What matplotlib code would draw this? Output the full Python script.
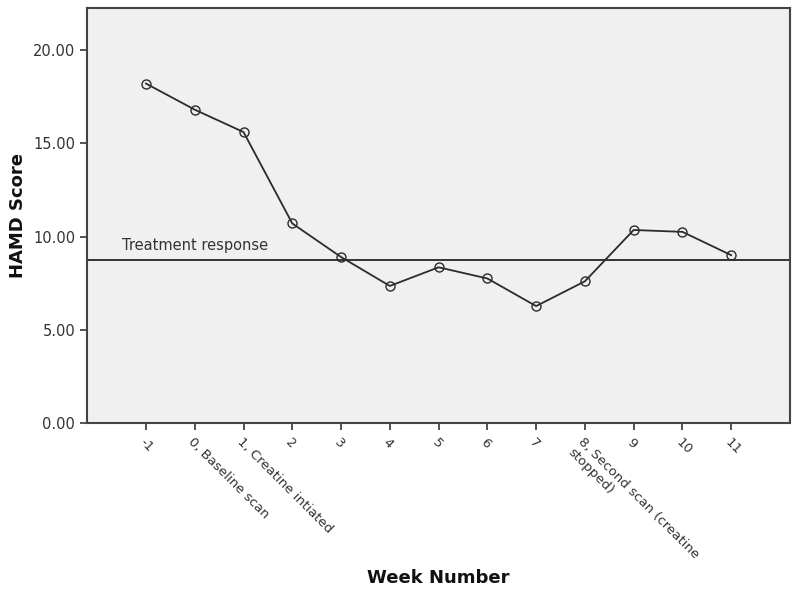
import matplotlib.pyplot as plt

weeks = ['-1', '0, Baseline scan', '1, Creatine intiated', '2', '3', '4', '5', '6', '7',
         '8, Second scan (creatine\nstopped)', '9', '10', '11']
hamd = [18.2, 16.8, 15.6, 10.7, 8.9, 7.35, 8.35, 7.75, 6.27, 7.6, 10.35, 10.25, 9.0]
response_level = 8.75
yticks = [0, 5, 10, 15, 20]

fig = plt.figure(figsize=(8, 5.95), dpi=100)
ax = fig.add_axes([0.10875, 0.289, 0.879, 0.6975])
ax.set_facecolor('#f0f0f0')

x = list(range(len(weeks)))
ax.plot(x, hamd, color='#2b2b2b', lw=1.3, marker='o', ms=6.5,
        mfc='none', mec='#2b2b2b', mew=1.0, zorder=3)
ax.axhline(response_level, color='#333333', lw=1.4, zorder=2)
ax.text(-0.5, response_level + 0.35, 'Treatment response', fontsize=10.5,
        color='#333333', ha='left', va='bottom')

ax.set_xlim(-1.21, len(weeks) - 1 + 1.21)
ax.set_ylim(0, 22.25)
ax.set_yticks(yticks)
ax.set_yticklabels(['%.2f' % v for v in yticks], fontsize=10.5, color='#333333')
ax.set_xticks(x)
ax.set_xticklabels(weeks, rotation=-45, ha='left', va='top', rotation_mode='anchor',
                   fontsize=9.5, color='#333333')
ax.tick_params(axis='both', direction='out', length=5, width=1.3, color='#444444')
ax.tick_params(axis='x', pad=4)
for s in ax.spines.values():
    s.set_color('#444444')
    s.set_linewidth(1.5)

fig.text(0.022, 0.638, 'HAMD Score', fontsize=13, fontweight='bold', color='#111111',
         ha='center', va='center', rotation=90)
fig.text(0.548, 0.028, 'Week Number', fontsize=13, fontweight='bold', color='#111111',
         ha='center', va='center')

fig.savefig('out.png', dpi=100)
